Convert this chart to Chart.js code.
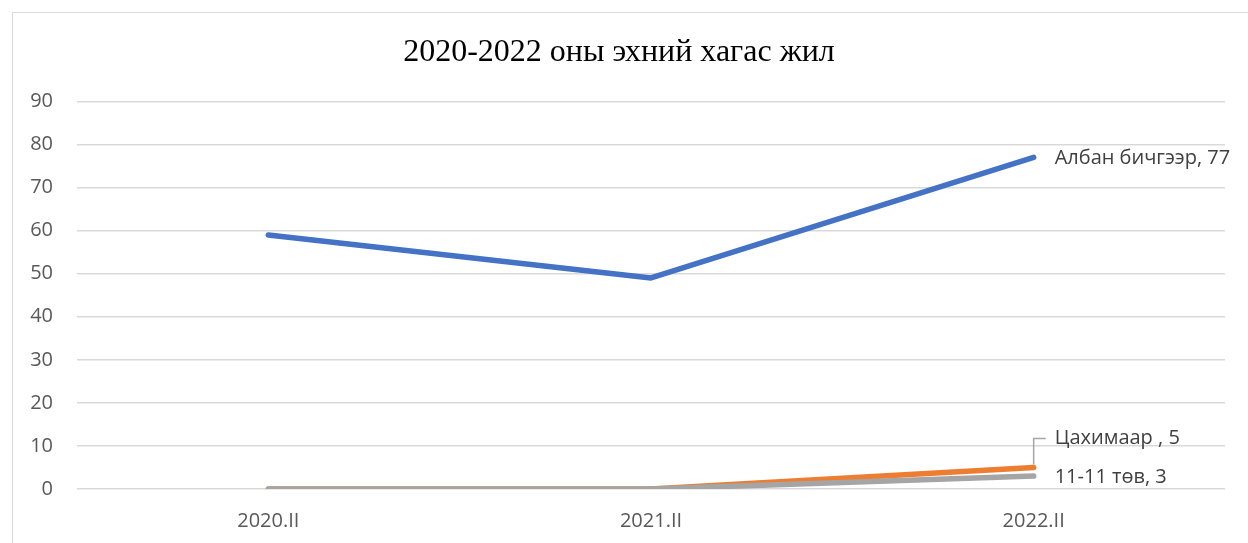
<!DOCTYPE html>
<html>
<head>
<meta charset="utf-8">
<script src="https://cdn.jsdelivr.net/npm/chart.js@4/dist/chart.umd.min.js"></script>
<style>
  body { margin: 0; background: #fff; overflow: hidden; }
  #frame { position: absolute; left: 12px; top: 12px; width: 1250px; height: 545px;
           border-left: 1px solid #d9d9d9; border-top: 1px solid #d9d9d9; }
  #wrap { position: absolute; left: 0; top: 0; width: 1235px; height: 540px; }
</style>
</head>
<body>
<div id="frame"><div id="wrap"><canvas id="chart1"></canvas></div></div>
<script>
const periods = ['2020.II', '2021.II', '2022.II'];
const albanBichgeer = [59, 49, 77];
const tsakhimaar = [0, 0, 5];
const tuv1111 = [0, 0, 3];
const seriesNames = ['Албан бичгээр', 'Цахимаар ', '11-11 төв'];
const yTicks = [0, 10, 20, 30, 40, 50, 60, 70, 80, 90];

const tickFont = { family: 'Open Sans', size: 20 };

// labels next to the last point of each line
const endLabels = {
  id: 'endLabels',
  afterDatasetsDraw(chart) {
    const ctx = chart.ctx;
    ctx.save();
    ctx.font = '20px "Open Sans"';
    ctx.fillStyle = '#404040';
    ctx.textBaseline = 'middle';
    chart.data.datasets.forEach((ds, i) => {
      const meta = chart.getDatasetMeta(i);
      const last = meta.data[meta.data.length - 1];
      const val = ds.data[ds.data.length - 1];
      let x = last.x + 21, y = last.y + 1;
      if (i === 1) {
        y = last.y - 29;
        ctx.strokeStyle = '#a6a6a6';
        ctx.lineWidth = 1.5;
        ctx.beginPath();
        ctx.moveTo(last.x, last.y - 3);
        ctx.lineTo(last.x, y);
        ctx.lineTo(last.x + 12, y);
        ctx.stroke();
      }
      ctx.fillText(ds.label + ', ' + val, x, y);
    });
    ctx.restore();
  }
};

const lineStyle = {
  fill: false,
  borderWidth: 5.5,
  borderCapStyle: 'round',
  borderJoinStyle: 'round',
  pointRadius: 0,
  tension: 0
};

new Chart(document.getElementById('chart1'), {
  type: 'line',
  data: {
    labels: periods,
    datasets: [
      Object.assign({ label: seriesNames[0], data: albanBichgeer, borderColor: '#4472C4', backgroundColor: '#4472C4', order: 2 }, lineStyle),
      Object.assign({ label: seriesNames[1], data: tsakhimaar, borderColor: '#ED7D31', backgroundColor: '#ED7D31', order: 1 }, lineStyle),
      Object.assign({ label: seriesNames[2], data: tuv1111, borderColor: '#A5A5A5', backgroundColor: '#A5A5A5', order: 0 }, lineStyle)
    ]
  },
  options: {
    responsive: true,
    maintainAspectRatio: false,
    animation: false,
    layout: { padding: { top: 20, right: 23, left: 0, bottom: 8 } },
    plugins: {
      legend: { display: false },
      tooltip: { enabled: false },
      title: {
        display: true,
        text: '2020-2022 оны эхний хагас жил',
        color: '#000',
        font: { family: 'Liberation Serif', size: 32, weight: 'normal' },
        padding: { top: 0, bottom: 30 }
      }
    },
    scales: {
      x: {
        offset: true,
        grid: { display: false },
        border: { display: false },
        ticks: { color: '#595959', font: tickFont, padding: 12 }
      },
      y: {
        min: 0,
        max: 90,
        afterBuildTicks(axis) { axis.ticks = yTicks.map(v => ({ value: v })); },
        afterFit(axis) { axis.width = 64; },
        grid: { color: '#d9d9d9', lineWidth: 1.5, drawTicks: false },
        border: { display: false },
        ticks: { color: '#595959', font: tickFont, padding: 24 }
      }
    }
  },
  plugins: [endLabels]
});
</script>
</body>
</html>
